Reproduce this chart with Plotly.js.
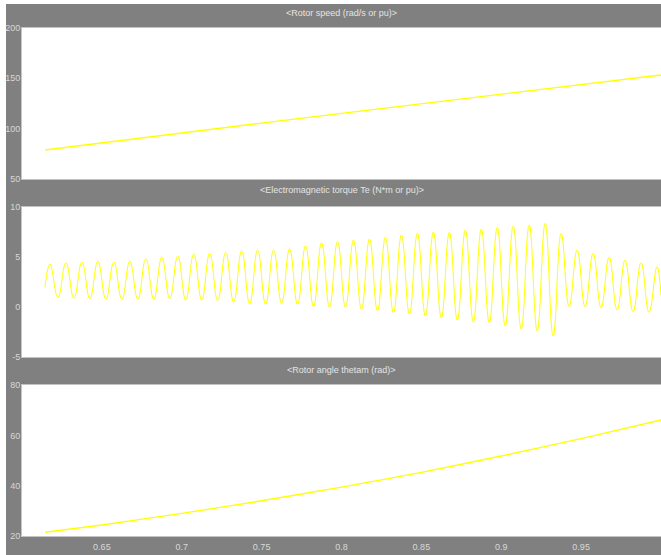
<!DOCTYPE html>
<html>
<head>
<meta charset="utf-8">
<script src="https://cdn.plot.ly/plotly-3.0.1.min.js"></script>
<style>
  html, body { margin: 0; padding: 0; background: #ffffff; width: 661px; height: 555px; overflow: hidden; }
  #chart { position: absolute; left: 6px; top: 4px; width: 655px; height: 551px; }
</style>
</head>
<body>
<div id="chart"></div>
<script>
// ---- data ----
const panelTitles = ["<Rotor speed (rad/s or pu)>", "<Electromagnetic torque Te (N*m or pu)>", "<Rotor angle thetam (rad)>"];

const speedTime  = [0.6144, 0.65, 0.70, 0.75, 0.80, 0.85, 0.90, 0.95, 1.0];
const speedValue = [78.8, 86.0, 95.8, 105.5, 115.2, 124.8, 134.0, 143.5, 153.3];

const teTime = [0.6144, 0.6175, 0.6225, 0.6275, 0.6325, 0.6375, 0.6425, 0.6475, 0.6525, 0.6575,
  0.6625, 0.6675, 0.6725, 0.6775, 0.6825, 0.6875, 0.6925, 0.6975, 0.7025, 0.7075,
  0.7125, 0.7175, 0.7225, 0.7275, 0.7325, 0.7375, 0.7425, 0.7475, 0.7525, 0.7575,
  0.7625, 0.7675, 0.7725, 0.7775, 0.7825, 0.7875, 0.7925, 0.7975, 0.8025, 0.8075,
  0.8125, 0.8175, 0.8225, 0.8275, 0.8325, 0.8375, 0.8425, 0.8475, 0.8525, 0.8575,
  0.8625, 0.8675, 0.8725, 0.8775, 0.8825, 0.8875, 0.8925, 0.8975, 0.9025, 0.9075,
  0.9125, 0.9175, 0.9225, 0.9275, 0.9325, 0.9375, 0.9425, 0.9475, 0.9525, 0.9575,
  0.9625, 0.9675, 0.9725, 0.9775, 0.9825, 0.9875, 0.9925, 0.9975, 1.0];
const teValue = [1.97, 4.3, 0.97, 4.43, 0.87, 4.5, 0.83, 4.57, 0.77, 4.5,
  0.77, 4.57, 0.77, 4.83, 0.77, 4.97, 0.83, 5.1, 0.7, 5.3,
  0.7, 5.37, 0.63, 5.47, 0.5, 5.63, 0.33, 5.7, 0.27, 5.7,
  0.37, 5.83, 0.27, 6.13, 0.03, 6.43, -0.03, 6.53, -0.03, 6.7,
  -0.23, 6.8, -0.37, 6.97, -0.57, 7.2, -0.7, 7.37, -0.9, 7.5,
  -1.1, 7.47, -1.3, 7.7, -1.47, 7.8, -1.57, 7.97, -1.9, 8.1,
  -2.23, 8.2, -2.4, 8.37, -2.9, 7.37, 0.03, 5.7, 0.03, 5.37,
  -0.07, 4.97, -0.3, 4.7, -0.47, 4.43, -0.53, 4.03, 1.2];

const thetaTime  = [0.6144, 0.65, 0.70, 0.75, 0.80, 0.85, 0.90, 0.95, 1.0];
const thetaValue = [21.5, 24.4, 29.0, 34.0, 39.4, 45.3, 51.8, 58.7, 66.1];

const xTickVals   = [0.65, 0.7, 0.75, 0.8, 0.85, 0.9, 0.95];
const xTickText   = ["0.65", "0.7", "0.75", "0.8", "0.85", "0.9", "0.95"];
const speedTicks  = [50, 100, 150, 200];
const teTicks     = [-5, 0, 5, 10];
const thetaTicks  = [20, 40, 60, 80];

// ---- styling ----
const FONT = "'Liberation Sans', Arial, sans-serif";
const tickFont = {family: FONT, size: 9, color: '#d8d8d8'};
const titleFont = {family: FONT, size: 9, color: '#e4e4e4'};
const lineCol = '#ffff00';

function xa(anchor, showLabels) {
  return {
    anchor: anchor, domain: [0, 1], range: [0.6, 1.0],
    showgrid: false, zeroline: false, showline: true, linecolor: '#c4c4c4', linewidth: 1, mirror: true,
    ticks: '', tickvals: xTickVals, ticktext: xTickText, showticklabels: showLabels,
    tickfont: tickFont, ticklabelstandoff: 2, automargin: false, fixedrange: true
  };
}
function ya(anchor, domain, range, ticks) {
  return {
    anchor: anchor, domain: domain, range: range,
    showgrid: false, zeroline: false, showline: true, linecolor: '#c4c4c4', linewidth: 1, mirror: true,
    ticks: '', tickvals: ticks, ticktext: ticks.map(String), tickfont: tickFont,
    ticklabelstandoff: -1, automargin: false, fixedrange: true
  };
}

const traces = [
  {x: speedTime, y: speedValue, xaxis: 'x', yaxis: 'y', type: 'scatter', mode: 'lines',
   line: {color: lineCol, width: 1.4}, hoverinfo: 'skip'},
  {x: teTime, y: teValue, xaxis: 'x2', yaxis: 'y2', type: 'scatter', mode: 'lines',
   line: {color: lineCol, width: 1.0, shape: 'spline', smoothing: 1.3}, hoverinfo: 'skip'},
  {x: thetaTime, y: thetaValue, xaxis: 'x3', yaxis: 'y3', type: 'scatter', mode: 'lines',
   line: {color: lineCol, width: 1.4, shape: 'spline', smoothing: 0.6}, hoverinfo: 'skip'}
];

const d1 = [0.7028, 1.0], d2 = [0.3524, 0.6476], d3 = [0.0, 0.2972];

const layout = {
  width: 655, height: 551,
  margin: {l: 16, r: 0, t: 24, b: 19, pad: 0},
  paper_bgcolor: '#808080', plot_bgcolor: '#ffffff',
  showlegend: false,
  font: {family: FONT, size: 9, color: '#d8d8d8'},
  xaxis: xa('y', false),
  xaxis2: xa('y2', false),
  xaxis3: xa('y3', true),
  yaxis: ya('x', d1, [50, 200], speedTicks),
  yaxis2: ya('x2', d2, [-5, 10], teTicks),
  yaxis3: ya('x3', d3, [20, 80], thetaTicks),
  annotations: [
    {text: panelTitles[0], xref: 'paper', yref: 'paper', x: 0.5, y: 1.0295, yanchor: 'middle', xanchor: 'center', showarrow: false, font: titleFont},
    {text: panelTitles[1], xref: 'paper', yref: 'paper', x: 0.5, y: 0.681, yanchor: 'middle', xanchor: 'center', showarrow: false, font: titleFont},
    {text: panelTitles[2], xref: 'paper', yref: 'paper', x: 0.5, y: 0.3268, yanchor: 'middle', xanchor: 'center', showarrow: false, font: titleFont}
  ]
};

Plotly.newPlot('chart', traces, layout, {staticPlot: true, displayModeBar: false});
</script>
</body>
</html>
